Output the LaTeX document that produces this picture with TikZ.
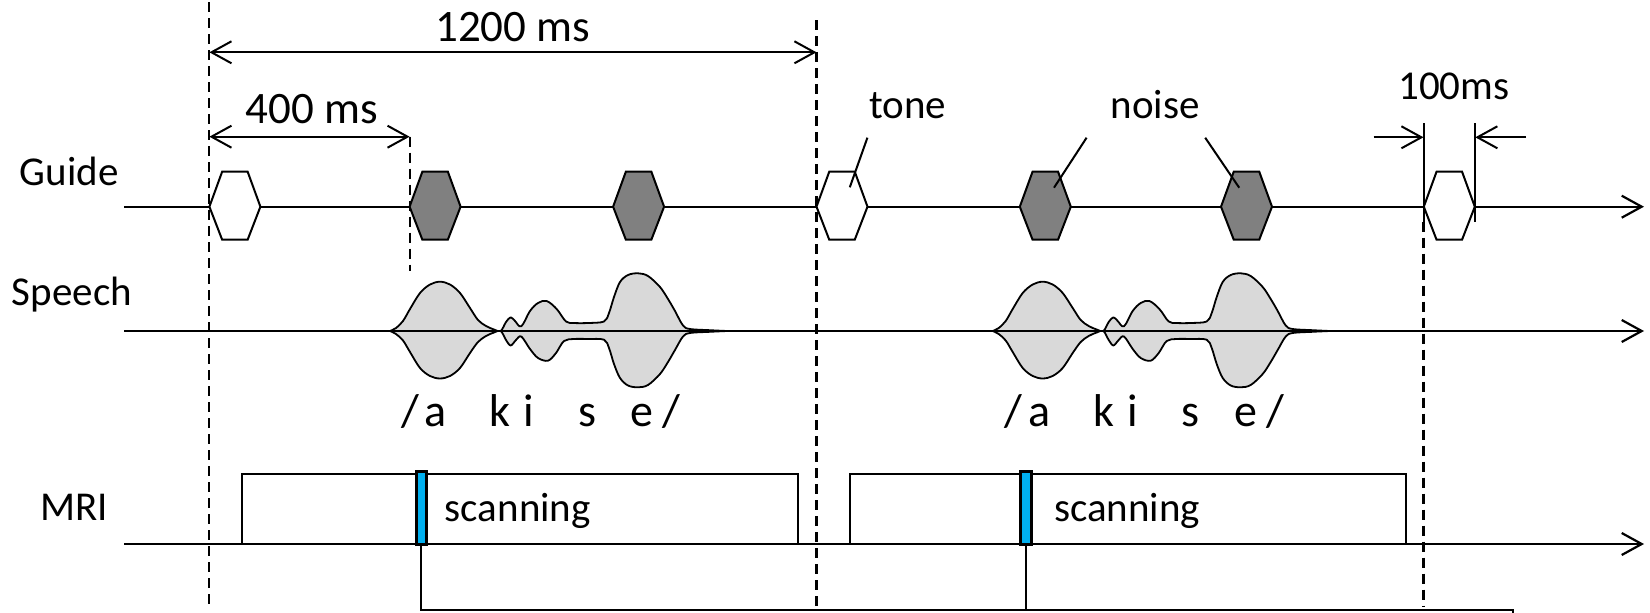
\documentclass[tikz,border=0pt]{standalone}
\usepackage{fontspec}
\setmainfont{Carlito}
\usetikzlibrary{arrows.meta,calc}
\definecolor{noisegray}{HTML}{808080}
\definecolor{wavegray}{HTML}{D9D9D9}
\definecolor{barblue}{HTML}{00B0F0}
\newcommand\lblfont{\fontsize{41}{49}\selectfont}
\newcommand\bigfont{\fontsize{45}{54}\selectfont}
\newcommand\phonfont{\fontsize{46}{55}\selectfont}
\tikzset{
  barb/.tip={Straight Barb[length=20pt,width=22pt]},
  axisline/.style={line width=2.2pt, -barb},
  dimline/.style={line width=2pt, barb-barb},
  halfdim/.style={line width=2pt, -barb},
  guidedash/.style={line width=2.1pt, dash pattern=on 10pt off 6pt},
  plainline/.style={line width=2pt},
  lbl/.style={anchor=base west, inner sep=0pt, font=\lblfont},
  biglbl/.style={anchor=base west, inner sep=0pt, font=\bigfont},
  hexstyle/.style={draw, line width=2pt, line join=miter},
  hexagon/.pic={
    \path[pic actions] (-25.5,0) -- (-12.75,-35) -- (12.75,-35) -- (25.5,0)
      -- (12.75,33) -- (-12.75,33) -- cycle;
    \coordinate (-c) at (0,0);
  },
  wave/.pic={
    \filldraw[fill=wavegray, line width=1.8pt, line join=round]
      plot[smooth, tension=0.55] coordinates {
        (0,0) (6,-3) (13,-10) (20,-22) (30,-38) (40,-46.5) (50,-49.3)
        (60,-46.5) (70,-38) (80,-23) (88,-11) (96,-5) (104,-1.5) (110.7,0)
        (116,-9) (120.7,-13.7) (125,-10) (131.3,-4.7) (140,-20)
        (148,-28) (156.7,-30) (166.7,-22) (176,-9.5) (184,-8) (198,-8) (214,-9.5)
        (219,-18) (224,-34) (230,-49) (238,-56) (248,-57.7) (258,-55)
        (270,-44) (278,-32) (285,-20) (293,-5.5) (300,-2) (320,-0.8) (337,0)}
      -- plot[smooth, tension=0.55] coordinates {
        (337,0) (320,0.8) (300,2) (293,5.5) (285,19) (278,31) (270,43)
        (258,54) (248,56.3) (238,54.5) (230,47) (224,33) (219,17) (214,8.7)
        (198,8) (184,8) (174,10) (166,22) (158,29.7) (148,27) (140,18)
        (131.3,5.5) (126,9) (120.7,14.5) (116,9) (110.7,0)
        (104,1.5) (96,5) (88,11) (80,22) (70,37) (60,45) (50,47.5)
        (40,45) (30,37) (20,21) (13,9.5) (6,3) (0,0)} -- cycle;
    \coordinate (-start) at (0,0);
  }
}
\begin{document}
\begin{tikzpicture}[x=1pt, y=-1pt]
\useasboundingbox (0,0) rectangle (1650,613);

% ---- key coordinates
\coordinate (d1t) at (209.4,2);    \coordinate (d1b) at (209.4,606);
\coordinate (d2t) at (409.6,136.7); \coordinate (d2b) at (409.6,271);
\coordinate (d3t) at (816.5,20);   \coordinate (d3b) at (816.5,606);
\coordinate (d4t) at (1423.5,221.7); \coordinate (d4b) at (1423.5,606);
\coordinate (d1a) at (209.4,52.3); \coordinate (d3a) at (816.5,52.3);
\coordinate (d1m) at (209.4,136.7);

\coordinate (gs) at (124,206.7);  \coordinate (ge) at (1644,206.7);
\coordinate (ss) at (124,331);    \coordinate (se) at (1644,331);
\coordinate (ms) at (124,544);    \coordinate (me) at (1644,544);

% ---- dashed reference lines
\draw[guidedash] (d1t) -- (d1b);
\draw[guidedash] (d2t) -- (d2b);
\draw[guidedash] (d3t) -- (d3b);
\draw[guidedash] (d4t) -- (d4b);

% ---- dimension arrows
\draw[dimline] (d1a) -- (d3a);
\draw[dimline] (d1m) -- (d2t);
\node[biglbl] (t1200) at (435,41.7) {1200 ms};
\node[biglbl] (t400) at (245.5,123.3) {400 ms};

% ---- row labels
\node[lbl] (lguide) at (19.5,185) {Guide};
\node[lbl] (lspeech) at (11.7,305) {Speech};
\node[lbl] (lmri) at (40,520) {MRI};

% ---- axes
\draw[axisline] (gs) -- (ge);

% ---- speech waveforms (under the axis line)
\pic (w1) at (390,331) {wave};
\pic (w2) at (992.7,331) {wave};
\draw[axisline] (ss) -- (se);

% ---- guide hexagons
\pic[hexstyle, fill=white] (h1) at (234.9,206.7) {hexagon};
\pic[hexstyle, fill=noisegray] (h2) at (435.1,206.7) {hexagon};
\pic[hexstyle, fill=noisegray] (h3) at (638.6,206.7) {hexagon};
\pic[hexstyle, fill=white] (h4) at (842,206.7) {hexagon};
\pic[hexstyle, fill=noisegray] (h5) at (1045.3,206.7) {hexagon};
\pic[hexstyle, fill=noisegray] (h6) at (1246.5,206.7) {hexagon};
\pic[hexstyle, fill=white] (h7) at (1449.3,206.7) {hexagon};

% ---- tone / noise labels with pointers
\node[lbl] (ltone) at (869.1,118.3) {tone};
\node[lbl] (lnoise) at (1110.5,118.3) {noise};
\coordinate (tonefrom) at (867.4,137.7);  \coordinate (tonetip) at (849.8,187.3);
\coordinate (noisefromA) at (1086.6,137.7); \coordinate (noisetipA) at (1054,187.7);
\coordinate (noisefromB) at (1205.2,137.7); \coordinate (noisetipB) at (1239.2,187.7);
\draw[plainline] (tonefrom) -- (tonetip);
\draw[plainline] (noisefromA) -- (noisetipA);
\draw[plainline] (noisefromB) -- (noisetipB);

% ---- 100 ms marker
\coordinate (hL1) at (1423.5,123.3); \coordinate (hL2) at (1423.5,221.7);
\coordinate (hR1) at (1475.3,123.3); \coordinate (hR2) at (1475.3,221.7);
\coordinate (aL) at (1373.5,137.3); \coordinate (aLt) at (1423.5,137.3);
\coordinate (aR) at (1526,137.3);   \coordinate (aRt) at (1475.3,137.3);
\draw[plainline] (hL1) -- (hL2);
\draw[plainline] (hR1) -- (hR2);
\draw[halfdim] (aL) -- (aLt);
\draw[halfdim] (aR) -- (aRt);
\node[lbl] (l100) at (1398,99.3) {100ms};

% ---- phoneme labels
\node[anchor=base west, inner sep=0pt, font=\phonfont] (ph1) at (401.2,426.7)
  {/\hspace{5.7pt}a\hspace{43.1pt}k\hspace{13.1pt}i\hspace{43.6pt}s\hspace{34.8pt}e\hspace{8.9pt}/};
\node[anchor=base west, inner sep=0pt, font=\phonfont] (ph2) at (1004.5,426.7)
  {/\hspace{5.7pt}a\hspace{43.1pt}k\hspace{13.1pt}i\hspace{43.6pt}s\hspace{34.8pt}e\hspace{8.9pt}/};

% ---- MRI row
\draw[axisline] (ms) -- (me);
\draw[line width=1.8pt] (242,474.3) rectangle (798,544);
\draw[line width=1.8pt] (850.3,474.3) rectangle (1406,544);
\node[lbl] (scan1) at (444.6,521.7) {scanning};
\node[lbl] (scan2) at (1054,521.7) {scanning};
\filldraw[fill=barblue, line width=3pt] (416.2,471.5) rectangle (426.6,544.5);
\filldraw[fill=barblue, line width=3pt] (1020.9,471.5) rectangle (1031.2,544.5);
\coordinate (b1) at (421.4,545);   \coordinate (b2) at (1026,545);
\coordinate (bend) at (1513,610);
\draw[plainline] (b1) |- (bend) -- ++(0,12);
\draw[plainline] (b2) -- (b2 |- bend);
\end{tikzpicture}
\end{document}
